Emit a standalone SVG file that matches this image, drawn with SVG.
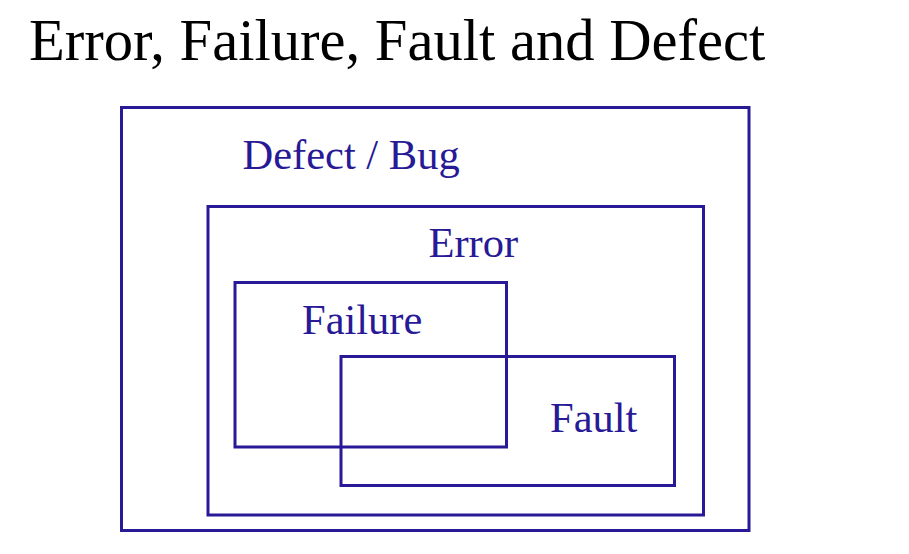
<svg xmlns="http://www.w3.org/2000/svg" width="909" height="554" viewBox="0 0 909 554">
<style>
.box{fill:none;stroke:#281996;stroke-width:3}
.lbl{font-family:"Liberation Serif","Times New Roman",serif;font-size:42.5px;fill:#281996}
.title{font-family:"Liberation Serif","Times New Roman",serif;font-size:58.6px;fill:#000}
</style>
<rect width="909" height="554" fill="#fff"/>
<text class="title" x="29" y="60">Error, Failure, Fault and Defect</text>
<g id="defect">
<rect class="box" x="121.5" y="107.5" width="627.5" height="423"/>
<text class="lbl" x="242.5" y="168.5">Defect / Bug</text>
</g>
<g id="error">
<rect class="box" x="208" y="206.5" width="495.5" height="308.5"/>
<text class="lbl" x="428.5" y="257">Error</text>
</g>
<g id="failure">
<rect class="box" x="235" y="282.5" width="271.5" height="164.5"/>
<text class="lbl" x="302" y="333.5">Failure</text>
</g>
<g id="fault">
<rect class="box" x="341" y="356.5" width="333.5" height="129"/>
<text class="lbl" x="550" y="431.5">Fault</text>
</g>
<g id="connectors"></g>
</svg>
